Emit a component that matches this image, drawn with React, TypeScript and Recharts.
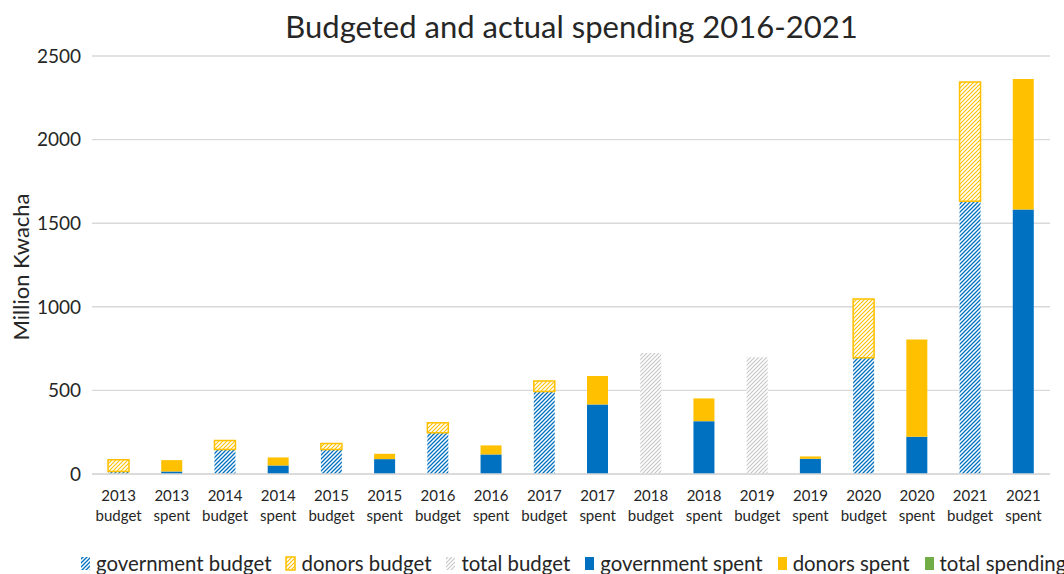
import React from 'react';
import { BarChart, Bar, XAxis, YAxis, CartesianGrid, Legend } from 'recharts';

const categories = [
  '2013 budget', '2013 spent', '2014 budget', '2014 spent', '2015 budget', '2015 spent',
  '2016 budget', '2016 spent', '2017 budget', '2017 spent', '2018 budget', '2018 spent',
  '2019 budget', '2019 spent', '2020 budget', '2020 spent', '2021 budget', '2021 spent',
];
const governmentBudget = [15, null, 147, null, 147, null, 247, null, 494, null, null, null, null, null, 696, null, 1632, null];
const donorsBudget = [70, null, 53, null, 36, null, 60, null, 62, null, null, null, null, null, 351, null, 712, null];
const totalBudget = [null, null, null, null, null, null, null, null, null, null, 723, null, 699, null, null, null, null, null];
const governmentSpent = [null, 15, null, 51, null, 89, null, 117, null, 416, null, 316, null, 91, null, 223, null, 1582];
const donorsSpent = [null, 68, null, 48, null, 32, null, 54, null, 170, null, 136, null, 14, null, 582, null, 780];
const totalSpending = categories.map(() => null as number | null);
const yTicks = [0, 500, 1000, 1500, 2000, 2500];

const data = categories.map((c, i) => ({
  name: c,
  governmentBudget: governmentBudget[i],
  donorsBudget: donorsBudget[i],
  totalBudget: totalBudget[i],
  governmentSpent: governmentSpent[i],
  donorsSpent: donorsSpent[i],
  totalSpending: totalSpending[i],
}));

const FONT = 'Lato, "Open Sans", sans-serif';
const BLUE = '#0070C0';
const GOLD = '#FFC000';
const GREY = '#C6C6C6';
const GREEN = '#70AD47';

const legendItems = [
  { label: 'government budget', fill: 'url(#govHatch)', stroke: 'none' },
  { label: 'donors budget', fill: 'url(#donorHatch)', stroke: GOLD },
  { label: 'total budget', fill: 'url(#greyHatch)', stroke: 'none' },
  { label: 'government spent', fill: BLUE, stroke: 'none' },
  { label: 'donors spent', fill: GOLD, stroke: 'none' },
  { label: 'total spending', fill: GREEN, stroke: 'none' },
];

const XTick = (props: any) => {
  const { x, y, payload } = props;
  const [yr, kind] = String(payload.value).split(' ');
  return (
    <text x={x} y={y} textAnchor="middle" fontSize={15} fill="#262626" fontFamily={FONT}>
      <tspan x={x} dy={27}>{yr}</tspan>
      <tspan x={x} dy={20}>{kind}</tspan>
    </text>
  );
};

const LegendContent = () => (
  <div style={{ display: 'flex', alignItems: 'center', height: 22, paddingLeft: 80, whiteSpace: 'nowrap', fontFamily: FONT, fontSize: 20.4, color: '#262626' }}>
    {legendItems.map((it) => (
      <div key={it.label} style={{ display: 'flex', alignItems: 'center', marginRight: 14, flexShrink: 0 }}>
        <svg width={11} height={15} style={{ marginRight: 5, flexShrink: 0 }}>
          <rect x={1} y={1} width={9} height={13} fill={it.fill} stroke={it.stroke} strokeWidth={1.5} />
        </svg>
        <span>{it.label}</span>
      </div>
    ))}
  </div>
);

export default function App() {
  return (
    <div style={{ position: 'absolute', left: 0, top: 0, width: 1064, height: 574, background: '#fff', overflow: 'hidden' }}>
      <div style={{ position: 'absolute', top: 7, left: 0, width: 1143, textAlign: 'center', fontFamily: FONT, fontSize: 31, color: '#262626' }}>
        Budgeted and actual spending 2016-2021
      </div>
      <BarChart width={1064} height={574} data={data} margin={{ top: 56, right: 14, left: 0, bottom: 24 }} barSize={21}>
        <defs>
          <pattern id="govHatch" patternUnits="userSpaceOnUse" width={4} height={4}>
            <rect width={4} height={4} fill="#fff" />
            <path d="M-1,1 l2,-2 M0,4 l4,-4 M3,5 l2,-2" stroke={BLUE} strokeWidth={1.3} />
          </pattern>
          <pattern id="donorHatch" patternUnits="userSpaceOnUse" width={4} height={4}>
            <rect width={4} height={4} fill="#fff" />
            <path d="M-1,1 l2,-2 M0,4 l4,-4 M3,5 l2,-2" stroke={GOLD} strokeWidth={1.1} />
          </pattern>
          <pattern id="greyHatch" patternUnits="userSpaceOnUse" width={4} height={4}>
            <rect width={4} height={4} fill="#fff" />
            <path d="M-1,1 l2,-2 M0,4 l4,-4 M3,5 l2,-2" stroke={GREY} strokeWidth={1.1} />
          </pattern>
        </defs>
        <CartesianGrid vertical={false} stroke="#D9D9D9" strokeWidth={1.4} />
        <XAxis dataKey="name" interval={0} tick={<XTick />} tickLine={false} axisLine={{ stroke: '#D9D9D9', strokeWidth: 1.4 }} height={54} tickSize={0} tickMargin={0} />
        <YAxis
          width={92}
          domain={[0, 2500]}
          ticks={yTicks}
          tickLine={false}
          axisLine={false}
          tickMargin={5}
          tick={{ fontSize: 19, fill: '#262626', fontFamily: FONT }}
          label={(p: any) => {
            const vb = p.viewBox;
            const cy = vb.y + vb.height / 2 + 2;
            return (
              <text x={20} y={cy} transform={`rotate(-90, 20, ${cy})`} textAnchor="middle" dominantBaseline="central" fontSize={22} fill="#262626" fontFamily={FONT}>
                Million Kwacha
              </text>
            );
          }}
        />
        <Legend verticalAlign="bottom" content={<LegendContent />} wrapperStyle={{ left: 0, width: 1064, top: 552, bottom: 'auto' }} />
        <Bar dataKey="governmentBudget" name="government budget" stackId="a" fill="url(#govHatch)" isAnimationActive={false} />
        <Bar dataKey="donorsBudget" name="donors budget" stackId="a" fill="url(#donorHatch)" stroke={GOLD} strokeWidth={1.5} isAnimationActive={false} />
        <Bar dataKey="totalBudget" name="total budget" stackId="a" fill="url(#greyHatch)" isAnimationActive={false} />
        <Bar dataKey="governmentSpent" name="government spent" stackId="a" fill={BLUE} isAnimationActive={false} />
        <Bar dataKey="donorsSpent" name="donors spent" stackId="a" fill={GOLD} isAnimationActive={false} />
        <Bar dataKey="totalSpending" name="total spending" stackId="a" fill={GREEN} isAnimationActive={false} />
      </BarChart>
    </div>
  );
}
